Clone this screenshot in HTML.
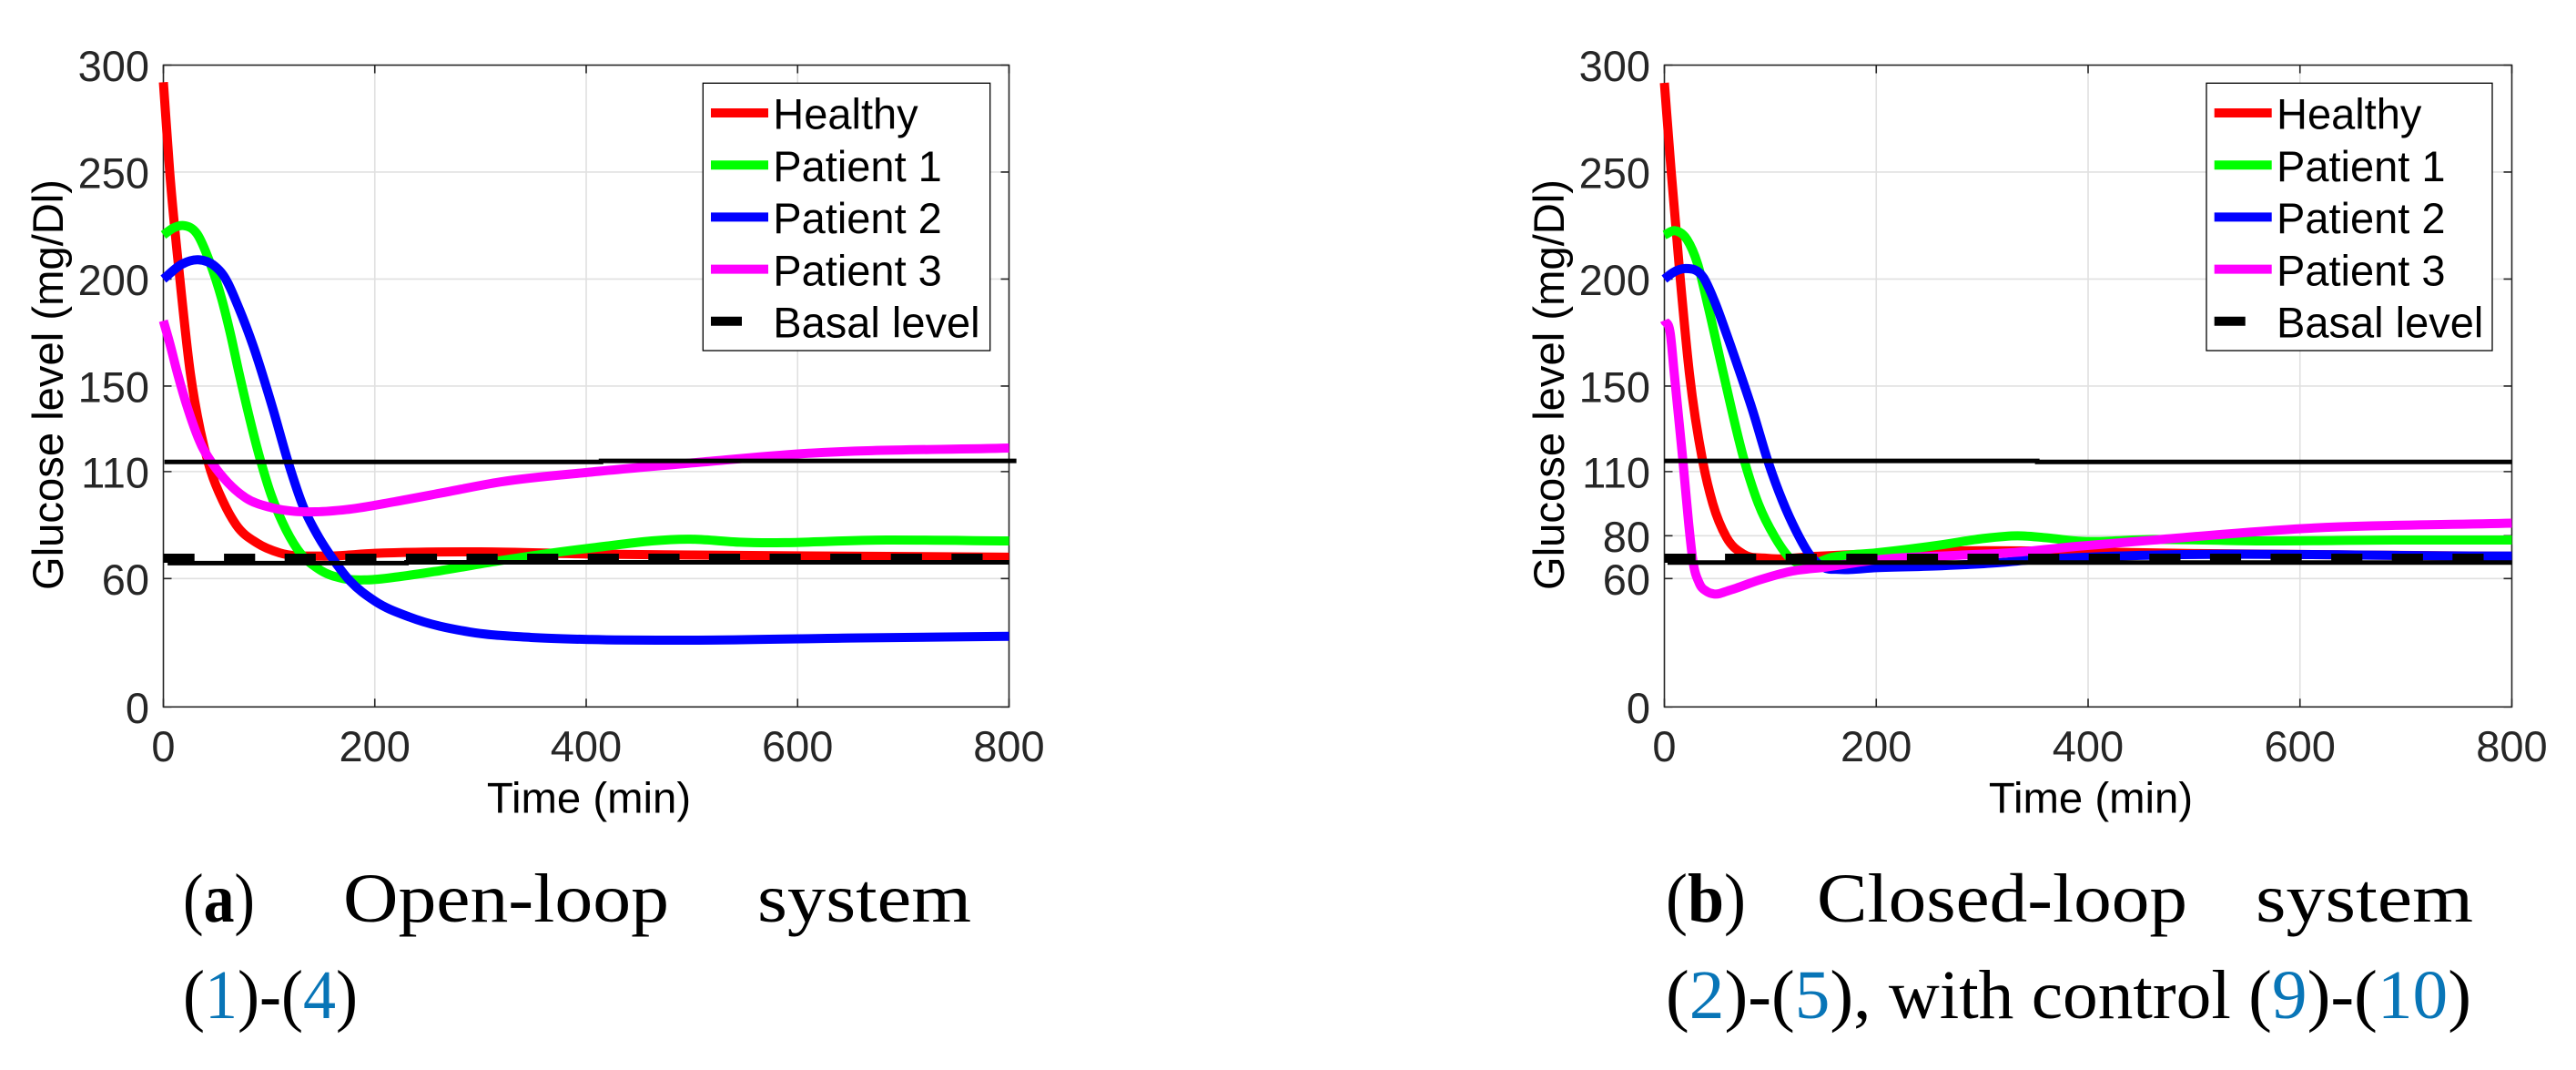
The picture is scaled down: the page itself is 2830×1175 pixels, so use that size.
<!DOCTYPE html>
<html lang="en">
<head>
<meta charset="utf-8">
<title>Glucose level: open-loop and closed-loop systems</title>
<style>
html,body{margin:0;padding:0;background:#fff;}
svg{display:block;}
text{font-family:"Liberation Sans",sans-serif;}
.cap{font-family:"Liberation Serif",serif;font-size:76px;fill:#000;}
</style>
</head>
<body>
<svg id="fig" xmlns="http://www.w3.org/2000/svg" width="2830" height="1175" viewBox="0 0 2830 1175">
  <text class="cap" x="201" y="1012" textLength="79" lengthAdjust="spacingAndGlyphs">(<tspan font-weight="bold">a</tspan>)</text>
  <text class="cap" x="377" y="1012" textLength="358" lengthAdjust="spacingAndGlyphs">Open-loop</text>
  <text class="cap" x="832" y="1012" textLength="235" lengthAdjust="spacingAndGlyphs">system</text>
  <text class="cap" x="201" y="1118" textLength="192" lengthAdjust="spacingAndGlyphs">(<tspan fill="#0875b7">1</tspan>)-(<tspan fill="#0875b7">4</tspan>)</text>
  <text class="cap" x="1830" y="1012" textLength="88" lengthAdjust="spacingAndGlyphs">(<tspan font-weight="bold">b</tspan>)</text>
  <text class="cap" x="1996" y="1012" textLength="407" lengthAdjust="spacingAndGlyphs">Closed-loop</text>
  <text class="cap" x="2478" y="1012" textLength="239" lengthAdjust="spacingAndGlyphs">system</text>
  <text class="cap" x="1830" y="1118" textLength="885" lengthAdjust="spacingAndGlyphs">(<tspan fill="#0875b7">2</tspan>)-(<tspan fill="#0875b7">5</tspan>), with control (<tspan fill="#0875b7">9</tspan>)-(<tspan fill="#0875b7">10</tspan>)</text>
</svg>
<script>
// ---- shared axis data ----
const xTickValues = [0, 200, 400, 600, 800];
const yTicksOpen = [0, 60, 110, 150, 200, 250, 300];
const yTicksClosed = [0, 60, 80, 110, 150, 200, 250, 300];
const legendLabels = ['Healthy', 'Patient 1', 'Patient 2', 'Patient 3', 'Basal level'];
const seriesColors = ['#ff0000', '#00ff00', '#0000ff', '#ff00ff'];

// ---- panel (a) open-loop data ----
const openHealthyT = [0, 6, 15.6, 25.5, 35, 45, 56.5, 69, 89, 110, 150, 200, 300, 400, 500, 800];
const openHealthyV = [292, 250, 200, 156, 129, 110, 96, 85, 76.5, 72, 70.5, 71.8, 72.5, 71.5, 71, 70];
const openP1T = [0, 10, 19, 32, 43.5, 55, 63.6, 71.6, 92.3, 102, 112.4, 126.8, 147, 170, 192.7, 224.6, 262, 319, 405, 499, 545, 684, 800];
const openP1V = [220.6, 224, 225, 221, 208.4, 191, 174, 156, 114.5, 99, 86.5, 73.7, 64.4, 60, 59.4, 61, 63.7, 68.4, 74.3, 78.4, 77, 78, 77.6];
const openP2T = [0, 17.7, 33, 48.7, 56.4, 72, 85, 103.8, 118, 132.4, 147, 161, 175.6, 200, 233, 290, 347.8, 405, 500, 650, 800];
const openP2V = [200, 207, 209, 206, 202, 185.7, 168.7, 139, 114.5, 93.5, 79.3, 68.7, 59.4, 49.5, 42, 35, 32.5, 31.5, 31.2, 32.2, 33];
const openP3T = [0, 6, 13.3, 23.4, 36.3, 46.4, 60.7, 78, 101, 124, 144, 175.6, 218.6, 262, 319, 405, 506, 605, 800];
const openP3V = [180.5, 170, 156, 139, 122, 113.8, 105, 97.7, 93.3, 91.4, 91.2, 92.4, 95.9, 99.9, 105.2, 109.8, 114.3, 118.4, 121];
const openBasalT = [0, 800];
const openBasalV = [69.5, 69.5];
const openUpperT = [1, 414, 414, 807];
const openUpperV = [114.5, 114.5, 115, 115];
const openLowerT = [4, 230, 230, 800];
const openLowerV = [67.2, 67.2, 67.6, 67.6];

// ---- panel (b) closed-loop data ----
const closedHealthyT = [0, 6.4, 15, 23.6, 36.3, 45.7, 58.6, 74.3, 95.8, 144.5, 200, 277, 400, 500, 800];
const closedHealthyV = [291.7, 250.4, 200, 156, 114.5, 95, 79.3, 71.5, 69.5, 70.4, 71.7, 72.9, 72.5, 71.7, 70.4];
const closedP1T = [0, 10, 21.3, 31.4, 41.4, 55.6, 75.8, 88.7, 104.4, 118.7, 131.6, 158.7, 200, 262, 299, 333.5, 362, 388, 461, 559, 689, 800];
const closedP1V = [220.6, 222.6, 218.5, 207, 187, 156, 114.5, 95, 79.3, 69.5, 66.5, 70, 72, 75.8, 78.6, 80, 79, 77.6, 78.3, 77.6, 78, 78];
const closedP2T = [0, 8, 20, 37, 47, 58.6, 71.5, 83, 98, 111.5, 124.4, 137.4, 150, 165, 200, 262, 315, 342, 400, 800];
const closedP2V = [200, 203, 204.9, 200.6, 190, 174.4, 156, 139, 114.5, 96.3, 82.2, 71, 65.3, 64.3, 65.1, 66, 67.4, 68.6, 70, 70.5];
const closedP3T = [0, 5.6, 9.3, 12.7, 17.6, 22.8, 27, 32.8, 40, 47, 61.4, 90, 118.7, 153, 205, 273, 330.6, 388, 462, 600, 800];
const closedP3V = [180.7, 174.4, 156, 139, 114.5, 86.4, 68, 58, 54, 52.8, 54.5, 59.4, 63.3, 65.4, 69, 70.8, 72.2, 75, 78, 83.3, 85.9];
const closedBasalT = [0, 800];
const closedBasalV = [69.5, 69.5];
const closedUpperT = [0, 352, 352, 800];
const closedUpperV = [115, 115, 114.5, 114.5];
const closedLowerT = [3, 800];
const closedLowerV = [67.5, 67.5];

const NS = 'http://www.w3.org/2000/svg';
const fig = document.getElementById('fig');

function mk(parent, tag, attrs) {
  const el = document.createElementNS(NS, tag);
  for (const k in attrs) el.setAttribute(k, attrs[k]);
  parent.appendChild(el);
  return el;
}

// Straight segments through data points
function linePath(ts, vs, sx, sy) {
  return ts.map((t, i) => (i ? 'L' : 'M') + sx(t).toFixed(2) + ' ' + sy(vs[i]).toFixed(2)).join('');
}

// Smooth cubic Hermite path with three-point (parabolic) tangents
function curvePath(ts, vs, sx, sy) {
  const n = ts.length;
  const px = ts.map(sx), py = vs.map(sy);
  const dx = [], m = [], tan = [];
  for (let i = 0; i < n - 1; i++) {
    dx[i] = px[i + 1] - px[i];
    m[i] = (py[i + 1] - py[i]) / dx[i];
  }
  tan[0] = m[0];
  tan[n - 1] = m[n - 2];
  for (let i = 1; i < n - 1; i++) {
    tan[i] = (dx[i] * m[i - 1] + dx[i - 1] * m[i]) / (dx[i - 1] + dx[i]);
  }
  let d = 'M' + px[0].toFixed(2) + ' ' + py[0].toFixed(2);
  for (let i = 0; i < n - 1; i++) {
    const h = dx[i] / 3;
    d += 'C' + (px[i] + h).toFixed(2) + ' ' + (py[i] + tan[i] * h).toFixed(2) + ' ' +
         (px[i + 1] - h).toFixed(2) + ' ' + (py[i + 1] - tan[i + 1] * h).toFixed(2) + ' ' +
         px[i + 1].toFixed(2) + ' ' + py[i + 1].toFixed(2);
  }
  return d;
}

function drawPanel(cfg) {
  const left = cfg.left, right = cfg.right, top = 71.5, bottom = 776.3;
  const sx = t => left + (t / 800) * (right - left);
  const sy = v => bottom - (v / 300) * (bottom - top);

  const g = mk(fig, 'g', {});
  
  

  // gridlines
  xTickValues.forEach(t => {
    if (t === 0 || t === 800) return;
    const line = mk(g, 'line', {x1: sx(t), x2: sx(t), y1: top, y2: bottom, stroke: '#e0e0e0', 'stroke-width': 1.6});
    
    
  });
  cfg.yTicks.forEach(v => {
    if (v === 0 || v === 300) return;
    const line = mk(g, 'line', {x1: left, x2: right, y1: sy(v), y2: sy(v), stroke: '#e0e0e0', 'stroke-width': 1.6});
    
    
  });

  // axes box
  const box = mk(g, 'rect', {x: left, y: top, width: right - left, height: bottom - top, fill: 'none', stroke: '#262626', 'stroke-width': 1.6});
  
  

  // ticks and tick labels
  xTickValues.forEach(t => {
    const d = 'M' + sx(t) + ' ' + bottom + 'v-9M' + sx(t) + ' ' + top + 'v9';
    const tick = mk(g, 'path', {d: d, stroke: '#262626', 'stroke-width': 1.6, fill: 'none'});
    
    
    const label = mk(g, 'text', {x: sx(t), y: 836, 'text-anchor': 'middle', 'font-size': 47, fill: '#262626'});
    label.textContent = t;
    
    
  });
  cfg.yTicks.forEach(v => {
    const d = 'M' + left + ' ' + sy(v) + 'h9M' + right + ' ' + sy(v) + 'h-9';
    const tick = mk(g, 'path', {d: d, stroke: '#262626', 'stroke-width': 1.6, fill: 'none'});
    
    
    const label = mk(g, 'text', {x: left - 15.5, y: sy(v) + 17.5, 'text-anchor': 'end', 'font-size': 47, fill: '#262626'});
    label.textContent = v;
    
    
  });

  // axis titles
  const xTitle = mk(g, 'text', {x: (left + right) / 2 + 3, y: 892.7, 'text-anchor': 'middle', 'font-size': 47.3, fill: '#000'});
  xTitle.textContent = 'Time (min)';
  
  
  const yx = left - 110.5;
  const yTitle = mk(g, 'text', {x: yx, y: 422.5, 'text-anchor': 'middle', 'font-size': 47.2, fill: '#000', transform: 'rotate(-90 ' + yx + ' 422.5)'});
  yTitle.textContent = 'Glucose level (mg/Dl)';
  
  

  // patient series
  cfg.series.forEach((s, i) => {
    const path = mk(g, 'path', {d: curvePath(s.t, s.v, sx, sy), fill: 'none', stroke: seriesColors[i], 'stroke-width': 10, 'stroke-linejoin': 'round'});
    
    
  });

  // basal dashed line
  const basal = mk(g, 'path', {d: linePath(cfg.basal.t, cfg.basal.v, sx, sy), fill: 'none', stroke: '#000', 'stroke-width': 10, 'stroke-dasharray': '34.2 32.4'});
  
  

  // reference limit lines
  const upper = mk(g, 'path', {d: linePath(cfg.upper.t, cfg.upper.v, sx, sy), fill: 'none', stroke: '#000', 'stroke-width': 5});
  
  
  const lower = mk(g, 'path', {d: linePath(cfg.lower.t, cfg.lower.v, sx, sy), fill: 'none', stroke: '#000', 'stroke-width': 5});
  
  

  // legend
  const legend = mk(g, 'g', {});
  
  
  const frame = mk(legend, 'rect', {x: cfg.legLeft, y: 91.3, width: cfg.legRight - cfg.legLeft, height: 293.7, fill: '#fff', stroke: '#000', 'stroke-width': 1.3});
  
  
  legendLabels.forEach((name, i) => {
    const ly = 124 + i * 57.2;
    const isBasal = i === 4;
    const key = mk(legend, 'line', {x1: cfg.legLeft + 8.7, x2: cfg.legLeft + (isBasal ? 42.7 : 71.7), y1: ly, y2: ly, stroke: isBasal ? '#000' : seriesColors[i], 'stroke-width': 10});
    
    
    const txt = mk(legend, 'text', {x: cfg.legLeft + 77, y: ly + 17.7, 'font-size': 47, fill: '#000'});
    txt.textContent = name;
    
    
  });
}

drawPanel({
  name: 'open-loop-chart', left: 179.5, right: 1108.5, legLeft: 772.3, legRight: 1087.7,
  yTicks: yTicksOpen,
  series: [
    {t: openHealthyT, v: openHealthyV},
    {t: openP1T, v: openP1V},
    {t: openP2T, v: openP2V},
    {t: openP3T, v: openP3V}
  ],
  basal: {t: openBasalT, v: openBasalV},
  upper: {t: openUpperT, v: openUpperV},
  lower: {t: openLowerT, v: openLowerV}
});

drawPanel({
  name: 'closed-loop-chart', left: 1828.5, right: 2759.5, legLeft: 2424, legRight: 2738,
  yTicks: yTicksClosed,
  series: [
    {t: closedHealthyT, v: closedHealthyV},
    {t: closedP1T, v: closedP1V},
    {t: closedP2T, v: closedP2V},
    {t: closedP3T, v: closedP3V}
  ],
  basal: {t: closedBasalT, v: closedBasalV},
  upper: {t: closedUpperT, v: closedUpperV},
  lower: {t: closedLowerT, v: closedLowerV}
});
</script>
</body>
</html>
